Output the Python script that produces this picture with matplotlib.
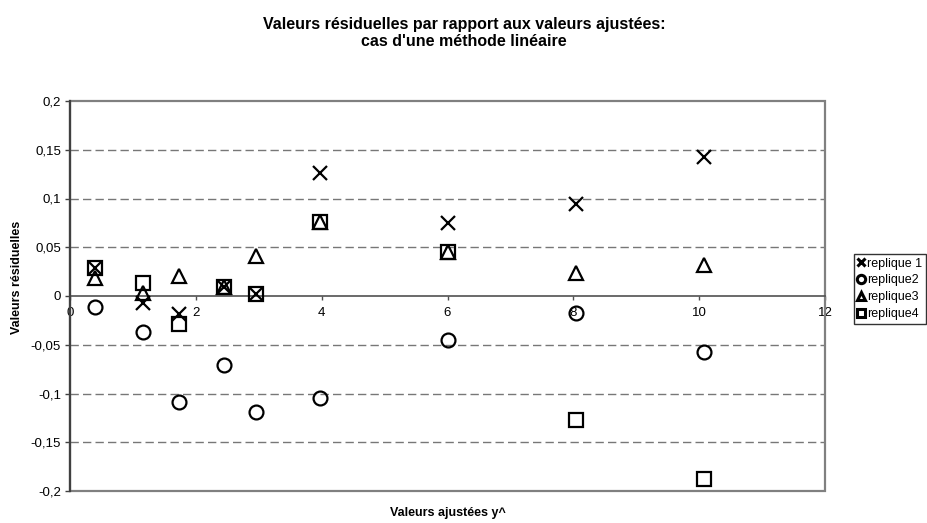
import matplotlib
matplotlib.use("Agg")
import matplotlib.pyplot as plt
from matplotlib.patches import Rectangle

plt.rcParams['font.family'] = ['Liberation Sans', 'DejaVu Sans']

# ---- data ----
fitted = [0.39, 1.155, 1.74, 2.44, 2.95, 3.97, 6.0, 8.04, 10.07]
replique1 = [0.029, -0.0075, -0.018, 0.0096, 0.0017, 0.126, 0.0745, 0.094, 0.143]
replique2 = [-0.0116, -0.037, -0.109, -0.071, -0.119, -0.105, -0.045, -0.017, -0.057]
replique3 = [0.018, 0.003, 0.021, 0.0096, 0.041, 0.076, 0.0448, 0.024, 0.032]
replique4 = [0.029, 0.013, -0.029, 0.0096, 0.0017, 0.076, 0.0448, -0.127, -0.188]
series_names = ["replique 1", "replique2", "replique3", "replique4"]
xticks = [0, 2, 4, 6, 8, 10, 12]
xtick_labels = ["0", "2", "4", "6", "8", "10", "12"]
yticks = [-0.2, -0.15, -0.1, -0.05, 0, 0.05, 0.1, 0.15, 0.2]
ytick_labels = ["-0,2", "-0,15", "-0,1", "-0,05", "0", "0,05", "0,1", "0,15", "0,2"]
grid_levels = [-0.15, -0.1, -0.05, 0.05, 0.1, 0.15]

W, H = 928, 523
fig = plt.figure(figsize=(W / 100, H / 100), dpi=100)
L, R, T, B = 70, 825, 101, 491
ax = fig.add_axes([L / W, 1 - B / H, (R - L) / W, (B - T) / H])
ax.set_xlim(0, 12)
ax.set_ylim(-0.2, 0.2)

for g in grid_levels:
    ax.axhline(g, color='#777777', lw=1.0, dashes=(6, 3), zorder=1)

mk = dict(linestyle='none', markersize=10, markeredgewidth=1.6,
          markeredgecolor='black', zorder=3)
h1, = ax.plot(fitted, replique1, marker='x', color='black', **mk)
h2, = ax.plot(fitted, replique2, marker='o', markerfacecolor='none', **mk)
h3, = ax.plot(fitted, replique3, marker='^', markerfacecolor='none', **mk)
h4, = ax.plot(fitted, replique4, marker='s', markerfacecolor='none', **mk)

# frame
for s in ['top', 'right']:
    ax.spines[s].set_visible(False)
ax.add_patch(Rectangle((0, 0), 1, 1, transform=ax.transAxes, fill=False,
                       edgecolor='#808080', lw=1.6, clip_on=False, zorder=2))
ax.spines['left'].set_color('#404040')
ax.spines['left'].set_linewidth(1.6)
ax.spines['left'].set_zorder(4)
ax.spines['bottom'].set_position(('data', 0))
ax.spines['bottom'].set_color('#505050')
ax.spines['bottom'].set_linewidth(1.2)

ax.set_xticks(xticks)
ax.set_xticklabels(xtick_labels)
ax.set_yticks(yticks)
ax.set_yticklabels(ytick_labels)
ax.tick_params(axis='x', direction='out', length=3, width=1, color='#505050',
               pad=5, labelsize=9.5)
ax.tick_params(axis='y', direction='out', length=3.5, width=1, color='#404040',
               pad=3, labelsize=9.5)

fig.text(0.5, 1 - 33 / H,
         "Valeurs résiduelles par rapport aux valeurs ajustées:\ncas d'une méthode linéaire",
         ha='center', va='center', fontsize=11.5, fontweight='bold', linespacing=1.2)
fig.text(448 / W, 1 - 513 / H, "Valeurs ajustées y^", ha='center', va='center',
         fontsize=9, fontweight='bold')
fig.text(17 / W, 1 - 277 / H, "Valeurs résiduelles", ha='center', va='center',
         rotation=90, fontsize=9, fontweight='bold')

leg = fig.legend([h1, h2, h3, h4], series_names, loc='upper left',
                 bbox_to_anchor=(854 / W, 1 - 254 / H), fontsize=9,
                 handlelength=0.5, handletextpad=0.28, borderpad=0.3,
                 labelspacing=0.38, borderaxespad=0, frameon=True,
                 fancybox=False, markerscale=0.6)
leg.get_frame().set_edgecolor('black')
leg.get_frame().set_linewidth(1.0)
for lh in leg.legend_handles:
    lh.set_markeredgewidth(2.2)

fig.savefig("out.png", dpi=100)
